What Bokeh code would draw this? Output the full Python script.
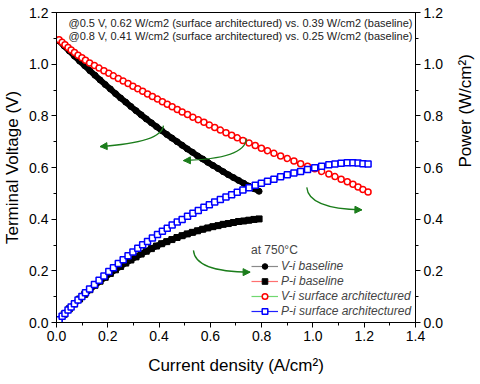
import math
from bokeh.plotting import figure
from bokeh.models import (Range1d, LinearAxis, SingleIntervalTicker, PrintfTickFormatter,
                          Legend, LegendItem, Label, Arrow, NormalHead)
from bokeh.embed import file_html
from bokeh.resources import INLINE

# ---------------- data ----------------
I_base = [0.01, 0.03, 0.05, 0.07, 0.09, 0.11, 0.13, 0.15, 0.17, 0.19,
          0.21, 0.23, 0.25, 0.27, 0.29, 0.31, 0.33, 0.35, 0.37, 0.39,
          0.41, 0.43, 0.45, 0.47, 0.49, 0.51, 0.53, 0.55, 0.57, 0.59,
          0.61, 0.63, 0.65, 0.67, 0.69, 0.71, 0.73, 0.75, 0.77, 0.79]
V_base = [1.090, 1.070, 1.051, 1.031, 1.012, 0.994, 0.975, 0.957, 0.939, 0.921,
          0.904, 0.886, 0.869, 0.853, 0.836, 0.820, 0.804, 0.788, 0.773, 0.758,
          0.743, 0.728, 0.714, 0.700, 0.686, 0.672, 0.659, 0.645, 0.633, 0.620,
          0.608, 0.596, 0.584, 0.572, 0.561, 0.550, 0.539, 0.528, 0.518, 0.508]
P_base = [0.011, 0.032, 0.053, 0.072, 0.091, 0.109, 0.127, 0.144, 0.160, 0.175,
          0.190, 0.204, 0.217, 0.230, 0.242, 0.254, 0.265, 0.276, 0.286, 0.296,
          0.305, 0.313, 0.321, 0.329, 0.336, 0.343, 0.349, 0.355, 0.361, 0.366,
          0.371, 0.375, 0.380, 0.383, 0.387, 0.391, 0.393, 0.396, 0.399, 0.401]

I_sa = [0.010, 0.022, 0.033, 0.045, 0.057, 0.070, 0.084, 0.099, 0.113, 0.129,
        0.148, 0.166, 0.185, 0.204, 0.222, 0.241, 0.260, 0.279, 0.298, 0.317,
        0.336, 0.355, 0.374, 0.394, 0.413, 0.432, 0.451, 0.471, 0.490, 0.511,
        0.532, 0.553, 0.575, 0.596, 0.617, 0.639, 0.661, 0.683, 0.705, 0.727,
        0.751, 0.775, 0.799, 0.823, 0.848, 0.874, 0.900, 0.926, 0.952, 0.979,
        1.007, 1.034, 1.062, 1.086, 1.110, 1.134, 1.156, 1.176, 1.195, 1.215]
V_sa = [1.095, 1.085, 1.075, 1.065, 1.055, 1.045, 1.035, 1.025, 1.015, 1.005,
        0.995, 0.985, 0.975, 0.965, 0.955, 0.945, 0.935, 0.925, 0.915, 0.905,
        0.895, 0.885, 0.875, 0.865, 0.855, 0.845, 0.835, 0.825, 0.815, 0.805,
        0.795, 0.785, 0.775, 0.765, 0.755, 0.745, 0.735, 0.725, 0.715, 0.705,
        0.695, 0.685, 0.675, 0.665, 0.655, 0.645, 0.635, 0.625, 0.615, 0.605,
        0.595, 0.585, 0.575, 0.565, 0.555, 0.545, 0.535, 0.525, 0.515, 0.505]
P_sa = [0.011, 0.024, 0.035, 0.048, 0.060, 0.073, 0.087, 0.101, 0.115, 0.130,
        0.147, 0.164, 0.180, 0.197, 0.212, 0.228, 0.243, 0.258, 0.273, 0.287,
        0.301, 0.314, 0.327, 0.341, 0.353, 0.365, 0.377, 0.389, 0.399, 0.411,
        0.423, 0.434, 0.446, 0.456, 0.466, 0.476, 0.486, 0.495, 0.504, 0.513,
        0.522, 0.531, 0.539, 0.547, 0.555, 0.564, 0.572, 0.579, 0.585, 0.592,
        0.599, 0.605, 0.611, 0.614, 0.616, 0.618, 0.618, 0.617, 0.615, 0.614]

tick_interval = 0.2
note_lines = ["@0.5 V, 0.62 W/cm2 (surface architectured) vs. 0.39 W/cm2 (baseline)",
              "@0.8 V, 0.41 W/cm2 (surface architectured) vs. 0.25 W/cm2 (baseline)"]
legend_labels = ["V-i baseline", "P-i baseline",
                 "V-i surface architectured", "P-i surface architectured"]

FONT = "Liberation Sans"
GREEN = "#1b7d1b"
EPS = 1e-6

p = figure(frame_width=359, frame_height=310,
           x_range=Range1d(0, 1.4 + EPS), y_range=Range1d(0, 1.2 + EPS),
           output_backend="svg", toolbar_location=None,
           min_border_left=50, min_border_right=40, min_border_top=12, min_border_bottom=56)
p.extra_y_ranges = {"power": Range1d(0, 1.2 + EPS)}
p.xgrid.visible = False
p.ygrid.visible = False
p.outline_line_color = "black"
p.outline_line_width = 1
p.background_fill_color = "white"

right = LinearAxis(y_range_name="power")
p.add_layout(right, "right")

def style_axis(ax, label):
    ax.ticker = SingleIntervalTicker(interval=tick_interval, num_minor_ticks=2)
    ax.formatter = PrintfTickFormatter(format="%.1f")
    ax.axis_label = label
    ax.axis_label_text_font = FONT
    ax.axis_label_text_font_size = "17px"
    ax.axis_label_text_font_style = "normal"
    ax.axis_label_text_color = "black"
    ax.major_label_text_font = FONT
    ax.major_label_text_font_size = "14px"
    ax.major_label_text_color = "black"
    ax.major_tick_in = 0
    ax.major_tick_out = 5
    ax.minor_tick_in = 0
    ax.minor_tick_out = 3
    ax.axis_line_color = "black"
    ax.major_tick_line_color = "black"
    ax.minor_tick_line_color = "black"
    ax.major_label_standoff = 3
    ax.axis_label_standoff = 4

style_axis(p.xaxis[0], "Current density (A/cm²)")
style_axis(p.yaxis[0], "Terminal Voltage (V)")
style_axis(right, "Power (W/cm²)")
p.xaxis[0].axis_label_standoff = 12
right.axis_label_orientation = math.pi / 2
right.axis_label_standoff = 20

# ---------------- series ----------------
p.line(I_base, V_base, line_color="black", line_width=6)
p.line(I_base, P_base, line_color="black", line_width=6, y_range_name="power")
s_vb = p.scatter(I_base, V_base, marker="circle", size=6, fill_color="black",
                 line_color="black")
s_pb = p.scatter(I_base, P_base, marker="square", size=6, fill_color="black",
                 line_color="black", y_range_name="power")
s_vs = p.scatter(I_sa, V_sa, marker="circle", size=6, fill_color="white",
                 line_color="red", line_width=1.5)
s_ps = p.scatter(I_sa, P_sa, marker="square", size=6, fill_color="white",
                 line_color="blue", line_width=1.5, y_range_name="power")

# legend-only line swatches (no visible data)
nan = float("nan")
d1 = p.line([nan], [nan], line_color="#8a8a8a", line_width=1.2)
d2 = p.line([nan], [nan], line_color="#ff7070", line_width=1.2)
d3 = p.line([nan], [nan], line_color="#70d870", line_width=1.2)
d4 = p.line([nan], [nan], line_color="#2020ff", line_width=1.2)

legend = Legend(items=[
    LegendItem(label=legend_labels[0], renderers=[d1, s_vb]),
    LegendItem(label=legend_labels[1], renderers=[d2, s_pb]),
    LegendItem(label=legend_labels[2], renderers=[d3, s_vs]),
    LegendItem(label=legend_labels[3], renderers=[d4, s_ps]),
], location=(195, 4))
legend.title = "at 750°C"
legend.title_text_font = FONT
legend.title_text_font_size = "12px"
legend.title_text_font_style = "normal"
legend.title_standoff = 2
legend.label_text_font = FONT
legend.label_text_font_size = "12px"
legend.label_text_font_style = "italic"
legend.glyph_width = 27
legend.glyph_height = 14
legend.label_height = 14
legend.label_standoff = 3
legend.spacing = 1
legend.padding = 0
legend.margin = 0
legend.border_line_color = None
legend.background_fill_alpha = 0
p.add_layout(legend, "center")

# ---------------- annotations ----------------
p.add_layout(Label(x=1.388, y=1.161, text=note_lines[0], text_align="right",
                   text_baseline="middle", text_font=FONT, text_font_size="11px",
                   text_color="#222222"))
p.add_layout(Label(x=1.388, y=1.110, text=note_lines[1], text_align="right",
                   text_baseline="middle", text_font=FONT, text_font_size="11px",
                   text_color="#222222"))

# curved green arrows: (start, control, end)
arrows = [((0.417, 0.762), (0.411, 0.697), (0.170, 0.681)),
          ((0.741, 0.712), (0.736, 0.633), (0.495, 0.627)),
          ((0.976, 0.523), (0.983, 0.440), (1.191, 0.436)),
          ((0.534, 0.279), (0.541, 0.195), (0.755, 0.195))]
for (sx, sy), (cx, cy), (ex, ey) in arrows:
    p.quadratic(x0=[sx], y0=[sy], x1=[ex], y1=[ey], cx=[cx], cy=[cy],
                line_color=GREEN, line_width=1.3)
    p.add_layout(Arrow(end=NormalHead(size=7, fill_color=GREEN, line_color=GREEN),
                       x_start=ex + 0.1 * (cx - ex), y_start=ey + 0.1 * (cy - ey),
                       x_end=ex, y_end=ey, line_color=GREEN, line_width=1.3))

open("out.html", "w").write(file_html(p, INLINE))
